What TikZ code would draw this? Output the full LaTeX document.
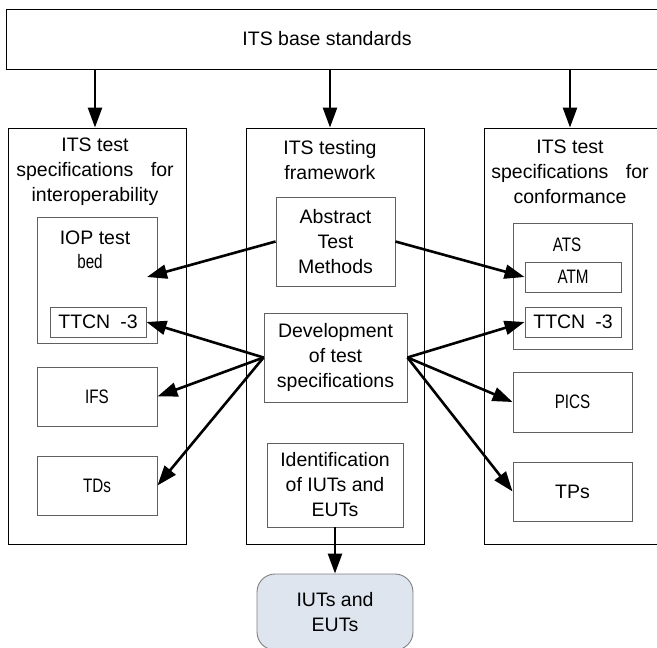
\documentclass[tikz,border=0pt]{standalone}
\usepackage{fontspec}
\setmainfont{Liberation Sans}
\usepackage{graphicx}
\usetikzlibrary{arrows.meta}
\newcommand{\narrow}[1]{\scalebox{0.78}[1]{#1}}
\definecolor{boxgray}{RGB}{96,96,96}
\definecolor{iutfill}{RGB}{222,229,239}
\begin{document}
\begin{tikzpicture}[x=1pt,y=-1pt,
    every node/.style={font=\fontsize{19.5}{25}\selectfont, inner sep=0pt},
    outer/.style={draw=black, line width=0.9pt},
    inner/.style={draw=boxgray, line width=0.9pt},
    bigarrow/.style={line width=2.6pt, -{Triangle[length=20pt,width=14pt]}}]
            \useasboundingbox (0,0) rectangle (657,648);
            % base standards
            \node[outer, minimum width=664pt, minimum height=60pt] (base) at (338, 39) {};
            \node (basetext) at (327, 39) {ITS base standards};
            % columns
            \node[outer, minimum width=178pt, minimum height=416pt] (leftcol) at (97, 336) {};
            \node[outer, minimum width=178pt, minimum height=416pt] (midcol) at (335, 336) {};
            \node[outer, minimum width=196pt, minimum height=416pt] (rightcol) at (582, 336) {};
            \node[align=center] (ltitle) at (95, 172) {ITS test\\specifications\hspace{12pt} for\\interoperability};
            \node[align=center] (mtitle) at (330, 160) {ITS testing\\framework};
            \node[align=center] (rtitle) at (570, 172) {ITS test\\specifications\hspace{12pt} for\\conformance};
            % interoperability side
            \node[inner, minimum width=120pt, minimum height=126pt] (iop) at (97, 280) {};
            \node (ioptext) at (95, 238) {IOP test};
            \node (bed) at (90, 262) {\narrow{bed}};
            \coordinate (iopin) at (147, 277);
            \node[inner, minimum width=96pt, minimum height=30pt] (ttcnl) at (98, 322) {TTCN\hspace{10pt}-3};
            \node[inner, minimum width=120pt, minimum height=59pt] (ifs) at (97, 396.5) {\narrow{IFS}};
            \node[inner, minimum width=120pt, minimum height=59pt] (tds) at (97, 485.5) {\narrow{TDs}};
            % framework
            \node[inner, align=center, minimum width=119pt, minimum height=89pt] (atm) at (335.5, 241.5) {Abstract\\Test\\Methods};
            \node[inner, align=center, minimum width=143pt, minimum height=89pt] (dev) at (335.5, 357.5) {Development\\of test\\specifications};
            \node[inner, align=center, minimum width=136pt, minimum height=84pt] (ident) at (335, 485) {Identification\\of IUTs and\\EUTs};
            \node[draw=gray, fill=iutfill, line width=0.9pt, rounded corners=18pt, align=center,
                  minimum width=156pt, minimum height=76pt] (iuts) at (335, 612) {IUTs and\\EUTs};
            % conformance side
            \node[inner, minimum width=119pt, minimum height=126pt] (ats) at (572.5, 286) {};
            \node (atstext) at (567, 245) {\narrow{ATS}};
            \node[inner, minimum width=96pt, minimum height=30pt] (atmr) at (573, 277) {\narrow{ATM}};
            \node[inner, minimum width=96pt, minimum height=30pt] (ttcnr) at (573, 322) {TTCN\hspace{10pt}-3};
            \node[inner, minimum width=119pt, minimum height=60pt] (pics) at (572.5, 402) {\narrow{PICS}};
            \node[inner, minimum width=119pt, minimum height=59pt] (tps) at (572.5, 491.5) {TPs};
            % arrows
            \draw[bigarrow] (base.south -| ltitle) -- (leftcol.north -| ltitle);
            \draw[bigarrow] (base.south -| mtitle) -- (midcol.north -| mtitle);
            \draw[bigarrow] (base.south -| rtitle) -- (rightcol.north -| rtitle);
            \draw[bigarrow] (atm.west) -- (iopin);
            \draw[bigarrow] (atm.east) -- (atmr.west);
            \draw[bigarrow] (dev.west) -- (ttcnl.east);
            \draw[bigarrow] (dev.west) -- (ifs.east);
            \draw[bigarrow] (dev.west) -- (tds.east);
            \draw[bigarrow] (dev.east) -- (ttcnr.west);
            \draw[bigarrow] (dev.east) -- (pics.west);
            \draw[bigarrow] (dev.east) -- (tps.west);
            \draw[bigarrow] (ident.south) -- (iuts.north);
          \end{tikzpicture}
\end{document}
